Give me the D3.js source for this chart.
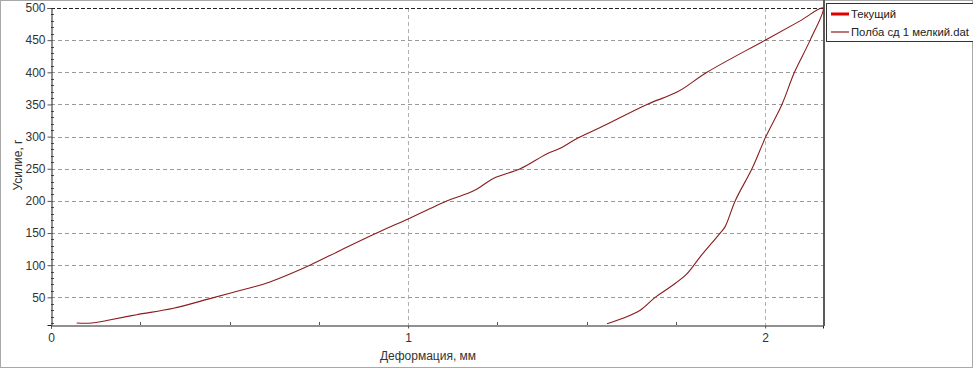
<!DOCTYPE html>
<html><head><meta charset="utf-8">
<script src="https://cdn.jsdelivr.net/npm/d3@7"></script>
<style>
html,body{margin:0;padding:0;background:#fff;}
svg{display:block;font-family:"Liberation Sans",Arial,sans-serif;}
</style></head>
<body>
<svg id="chart" width="973" height="368"></svg>
<script>
// Data: series "Полба сд 1 мелкий.dat" (loading then unloading)
const deformation = [0.072,0.114,0.156,0.24,0.343,0.445,0.511,0.567,0.613,0.725,0.81,0.912,1.0,1.062,1.108,1.164,1.192,1.239,1.314,1.388,1.426,1.473,1.538,1.669,1.756,1.837,2.0,2.098,2.162,
  2.126,2.082,2.047,2.002,1.963,1.916,1.888,1.874,1.818,1.78,1.734,1.692,1.65,1.6,1.557];
const force = [10,10,14,23,33,48,58,66,74,100,123,150,172,188,200,211,218,235,250,273,282,297,314,350,370,400,450,480,500,
  450,400,350,300,250,200,160,150,113,86,66,50,30,17,9];
const currentX = []; // "Текущий" – no data
const currentY = [];
const seriesNames = ["Текущий","Полба сд 1 мелкий.dat"];
const yTicks = [50,100,150,200,250,300,350,400,450,500];
const xTicks = [0,1,2];
const xMinor = [0.25,0.5,0.75,1.25,1.5,1.75];
const xTitle = "Деформация, мм";
const yTitle = "Усилие, г";

const svg = d3.select("#chart");
const L=51, R=823, T=8, B=325;
const x = d3.scaleLinear().domain([0,2.162]).range([L,R]);
const y = d3.scaleLinear().domain([7,500]).range([B,T]);

// outer frame
svg.append("rect").attr("x",0.5).attr("y",0.5).attr("width",972).attr("height",367)
  .attr("fill","#fff").attr("stroke","#a8a8a8").attr("stroke-width",1);

// horizontal grid
svg.append("g").selectAll("line").data(yTicks.filter(v=>v<500)).join("line")
  .attr("x1",L).attr("x2",R).attr("y1",d=>Math.round(y(d))+0.5).attr("y2",d=>Math.round(y(d))+0.5)
  .attr("stroke","#9a9a9a").attr("stroke-dasharray","4,3");
// vertical grid
svg.append("g").selectAll("line").data(xTicks.filter(v=>v>0)).join("line")
  .attr("x1",d=>Math.round(x(d))+0.5).attr("x2",d=>Math.round(x(d))+0.5).attr("y1",T).attr("y2",B)
  .attr("stroke","#b0b0b0").attr("stroke-dasharray","4,3");
// top dashed line
svg.append("line").attr("x1",L).attr("x2",R).attr("y1",T+0.5).attr("y2",T+0.5)
  .attr("stroke","#222").attr("stroke-dasharray","4,2");

// y axis minor ticks
const yMinor = d3.range(10,500,10).filter(v=>v%50!==0 && v>7);
svg.append("g").selectAll("line").data(yMinor).join("line")
  .attr("x1",L).attr("x2",L+3).attr("y1",d=>Math.round(y(d))+0.5).attr("y2",d=>Math.round(y(d))+0.5)
  .attr("stroke","#555");
// x minor ticks
svg.append("g").selectAll("line").data(xMinor).join("line")
  .attr("x1",d=>Math.round(x(d))+0.5).attr("x2",d=>Math.round(x(d))+0.5).attr("y1",B).attr("y2",B-3)
  .attr("stroke","#555");

// axes
const yAxis = d3.axisLeft(y).tickValues(yTicks).tickSize(4).tickPadding(2).tickFormat(d3.format("d"));
const gy = svg.append("g").attr("transform",`translate(${L+0.5},0)`).call(yAxis);
gy.select(".domain").attr("stroke","#222");
gy.selectAll(".tick line").attr("stroke","#555");
gy.selectAll("text").attr("font-size",12).attr("fill","#333").attr("font-family","Liberation Sans, Arial, sans-serif");

const xAxis = d3.axisBottom(x).tickValues(xTicks).tickSize(3).tickPadding(5).tickFormat(d3.format("d"));
const gx = svg.append("g").attr("transform",`translate(0,${B+0.5})`).call(xAxis);
gx.select(".domain").attr("stroke","#222");
gx.selectAll(".tick line").attr("stroke","#555");
gx.selectAll("text").attr("font-size",12).attr("fill","#333").attr("font-family","Liberation Sans, Arial, sans-serif");

// right border
svg.append("line").attr("x1",R+1).attr("x2",R+1).attr("y1",0).attr("y2",B+1)
  .attr("stroke","#5a5a5a").attr("stroke-width",2);

// titles
svg.append("text").attr("x",428).attr("y",360).attr("text-anchor","middle")
  .attr("font-size",12).attr("fill","#333").text(xTitle);
svg.append("text").attr("transform","translate(22,165) rotate(-90)").attr("text-anchor","middle")
  .attr("font-size",12).attr("fill","#333").text(yTitle);

// series line
const pts = deformation.map((d,i)=>[d,force[i]]);
const line = d3.line().x(d=>x(d[0])).y(d=>y(d[1])).curve(d3.curveCatmullRom.alpha(0.5));
svg.append("path").datum(pts).attr("d",line).attr("fill","none")
  .attr("stroke","#8b1c1c").attr("stroke-width",1.1).attr("stroke-linejoin","round");
svg.append("path").datum(currentX.map((d,i)=>[d,currentY[i]])).attr("d",line).attr("fill","none")
  .attr("stroke","#e00000").attr("stroke-width",3);

// legend
const lg = svg.append("g");
lg.append("rect").attr("x",826.5).attr("y",3.5).attr("width",160).attr("height",38)
  .attr("fill","#fff").attr("stroke","#333");
const legendStyles = [{c:"#e00000",w:3},{c:"#8b1c1c",w:1.2}];
seriesNames.forEach((n,i)=>{
  const yy = 14 + i*18;
  lg.append("line").attr("x1",831).attr("x2",849).attr("y1",yy).attr("y2",yy)
    .attr("stroke",legendStyles[i].c).attr("stroke-width",legendStyles[i].w);
  lg.append("text").attr("x",851).attr("y",yy+4).attr("font-size",11.3).attr("fill","#222").text(n);
});
</script>
</body></html>
